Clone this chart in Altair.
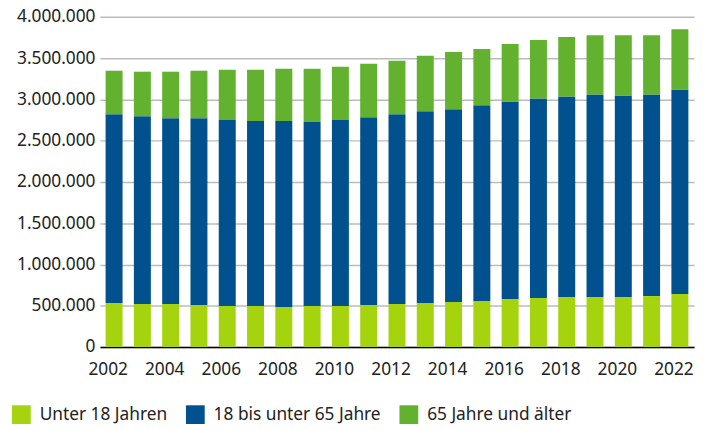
import altair as alt
import pandas as pd

years = [str(y) for y in range(2002, 2023)]
under18 = [533, 521, 521, 509, 497, 497, 485, 497, 497, 509, 521, 533, 545, 557, 581, 593, 605, 605, 605, 617, 641]
cum_under65 = [2820, 2796, 2772, 2772, 2749, 2737, 2737, 2725, 2749, 2784, 2820, 2856, 2880, 2928, 2975, 3011, 3035, 3059, 3047, 3059, 3119]
totals = [3347, 3335, 3335, 3347, 3359, 3359, 3371, 3371, 3395, 3431, 3467, 3527, 3575, 3611, 3671, 3719, 3754, 3778, 3778, 3778, 3850]

series = ["Unter 18 Jahren", "18 bis unter 65 Jahre", "65 Jahre und älter"]
colors = ["#A5D30E", "#00518E", "#62B22F"]

rows = []
for i, y in enumerate(years):
    a = under18[i] * 1000
    b = (cum_under65[i] - under18[i]) * 1000
    c = (totals[i] - cum_under65[i]) * 1000
    for k, (s, v) in enumerate(zip(series, [a, b, c])):
        rows.append({"Jahr": y, "Gruppe": s, "Wert": v, "ord": k})
df = pd.DataFrame(rows)

font = "Noto Sans"
fs = 17.5

chart = alt.Chart(df).mark_bar().encode(
    x=alt.X("Jahr:N", sort=years,
            scale=alt.Scale(paddingInner=0.4, paddingOuter=0.2),
            axis=alt.Axis(title=None, labelAngle=0, values=[str(y) for y in range(2002, 2023, 2)],
                          ticks=False, domain=True, domainColor="#000000", domainWidth=1.5,
                          labelFontSize=fs, labelColor="#222222", labelFont=font,
                          labelPadding=14, labelOffset=-6, grid=False)),
    y=alt.Y("Wert:Q", stack="zero",
            scale=alt.Scale(domain=[0, 4000000]),
            axis=alt.Axis(title=None, values=list(range(0, 4000001, 500000)),
                          labelExpr="replace(format(datum.value, ',.0f'), /,/g, '.')",
                          ticks=False, domain=False, grid=True, gridColor="#BBBBBB", gridWidth=1.5,
                          labelFontSize=fs, labelColor="#222222", labelFont=font, labelPadding=5)),
    color=alt.Color("Gruppe:N", sort=series,
                    scale=alt.Scale(domain=series, range=colors),
                    legend=alt.Legend(title=None, orient="none", direction="horizontal",
                                      legendX=-89, legendY=393,
                                      symbolType="square", symbolSize=361, symbolStrokeWidth=0,
                                      symbolOpacity=1, labelLimit=400,
                                      labelFontSize=fs, labelColor="#222222", labelFont=font,
                                      labelOffset=9, columnPadding=18)),
    order=alt.Order("ord:Q", sort="ascending"),
).properties(width=601, height=334, autosize=alt.AutoSizeParams(type="none"),
             padding={"left": 93, "top": 6.5, "right": 3, "bottom": 75}
).configure_view(stroke=None)

chart.save("out.html", embed_options={"renderer": "svg", "actions": False})
